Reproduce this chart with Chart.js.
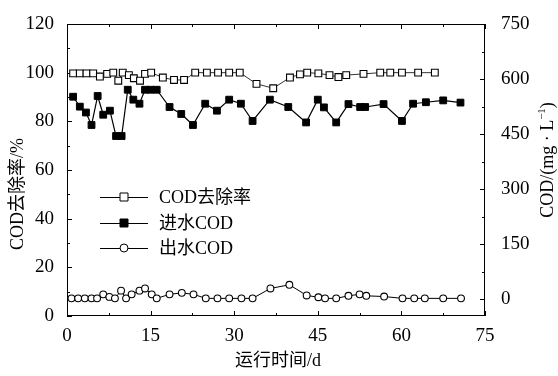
<!DOCTYPE html>
<html lang="zh">
<head>
<meta charset="UTF-8">
<title>COD去除率与进出水COD</title>
<script src="https://cdn.jsdelivr.net/npm/chart.js"></script>
<style>
  html, body { margin: 0; padding: 0; background: #fff; }
  #wrap { width: 558px; height: 376px; }
</style>
</head>
<body>
<div id="wrap"><canvas id="codChart" width="558" height="376"></canvas></div>
<script>
// COD removal rate, left axis (%)
const removalDays = [1.1, 2.3, 3.5, 4.7, 5.9, 7.2, 8.3, 9.2, 10.0, 11.1, 12.0, 13.1, 14.0, 15.1, 17.2, 19.2, 21.0, 23.0, 25.1, 27.1,
                     29.1, 31.0, 34.0, 37.0, 40.0, 41.8, 43.1, 45.1, 47.1, 48.7, 50.1, 53.2, 56.2, 58.0, 60.1, 63.0, 66.0];
const removalRate = [99.7, 99.7, 99.7, 99.7, 98.4, 99.5, 100, 96.7, 100, 99, 97.7, 96.7, 99.5, 100, 98, 97, 97, 100, 100, 100,
                     100, 100, 95.4, 93.6, 98, 99.3, 100, 99.7, 99, 98.2, 99, 99.5, 100, 100, 100, 100, 100];

// influent COD, right axis (mg/L)
const inDays = [1.1, 2.3, 3.4, 4.4, 5.5, 6.5, 7.7, 8.8, 9.8, 10.9, 11.9, 13.0, 14.0, 15.0, 16.1, 18.4, 20.5, 22.6, 24.8, 26.9,
                29.1, 31.2, 33.3, 36.4, 39.7, 42.9, 45.0, 46.1, 48.3, 50.5, 52.6, 53.5, 56.8, 60.1, 62.1, 64.4, 67.5, 70.6];
const inCOD = [552, 525, 509, 475, 554, 503, 514, 445, 445, 571, 544, 533, 571, 571, 571, 524, 505, 475, 533, 514,
               544, 533, 486, 544, 524, 482, 544, 523, 482, 532, 524, 524, 532, 486, 533, 537, 542, 536];

// effluent COD, right axis (mg/L)
const outDays = [0.8, 2.0, 3.2, 4.4, 5.4, 6.5, 7.6, 8.6, 9.7, 10.6, 11.6, 13.0, 14.0, 15.2, 16.1, 18.4, 20.6, 22.7, 24.9, 27.0,
                 29.1, 31.3, 33.3, 36.5, 39.9, 43.0, 45.1, 46.3, 48.3, 50.5, 52.5, 53.7, 56.9, 60.2, 62.3, 64.2, 67.5, 70.7];
const outCOD = [3, 3, 3, 3, 3, 14, 7, 3, 24, 3, 14, 24, 30, 14, 3, 14, 18, 14, 3, 3,
                3, 3, 3, 30, 40, 11, 6, 3, 3, 10, 14, 10, 8, 3, 3, 3, 3, 3];

const xTicks = [0, 15, 30, 45, 60, 75];
const leftTicks = [0, 20, 40, 60, 80, 100, 120];
const rightTicks = [0, 150, 300, 450, 600, 750];
const seriesNames = ['COD去除率', '进水COD', '出水COD'];

const serif = '"Liberation Serif", "Times New Roman", "Noto Sans CJK SC", serif';

function pairs(xs, ys) {
    return xs.map((x, i) => ({ x: x, y: ys[i] }));
}

// box, inward ticks (major + minor), axis titles, legend
const framePlugin = {
    id: 'frame',
    beforeDatasetsDraw(chart) {
        const ctx = chart.ctx;
        const a = chart.chartArea;
        const sx = chart.scales.x, sl = chart.scales.y, sr = chart.scales.y1;
        ctx.save();
        ctx.strokeStyle = '#000';
        ctx.lineWidth = 1;
        ctx.strokeRect(a.left + 0.5, a.top + 0.5, a.right - a.left - 1, a.bottom - a.top - 1);
        ctx.beginPath();
        for (let v = 0; v <= 75; v += 7.5) {
            const px = Math.round(sx.getPixelForValue(v)) + 0.5;
            const len = v % 15 === 0 ? 5 : 3;
            ctx.moveTo(px, a.bottom); ctx.lineTo(px, a.bottom - len);
            ctx.moveTo(px, a.top); ctx.lineTo(px, a.top + len);
        }
        for (let v = 0; v <= 120; v += 10) {
            const py = Math.round(sl.getPixelForValue(v)) + 0.5;
            const len = v % 20 === 0 ? 5 : 3;
            ctx.moveTo(a.left, py); ctx.lineTo(a.left + len, py);
        }
        for (let v = 0; v <= 750; v += 75) {
            const py = Math.round(sr.getPixelForValue(v)) + 0.5;
            const len = v % 150 === 0 ? 5 : 3;
            ctx.moveTo(a.right, py); ctx.lineTo(a.right - len, py);
        }
        ctx.stroke();
        ctx.restore();
    },
    afterDraw(chart) {
        const ctx = chart.ctx;
        const a = chart.chartArea;
        ctx.save();
        ctx.fillStyle = '#000';
        ctx.strokeStyle = '#000';
        ctx.font = '18px ' + serif;
        ctx.textBaseline = 'middle';

        // x title
        ctx.textAlign = 'center';
        ctx.fillText('运行时间/d', (a.left + a.right) / 2 + 2, 361);

        // left title
        ctx.save();
        ctx.translate(18, 194);
        ctx.rotate(-Math.PI / 2);
        ctx.fillText('COD去除率/%', 0, 0);
        ctx.restore();

        // right title with superscript
        ctx.save();
        ctx.translate(548, 160);
        ctx.rotate(-Math.PI / 2);
        const main = 'COD/(mg · L';
        const sup = '−1';
        ctx.font = '18px ' + serif;
        const w1 = ctx.measureText(main).width;
        ctx.font = '11px ' + serif;
        const w2 = ctx.measureText(sup).width;
        ctx.font = '18px ' + serif;
        const w3 = ctx.measureText(')').width;
        let x0 = -(w1 + w2 + w3) / 2;
        ctx.textAlign = 'left';
        ctx.fillText(main, x0, 0);
        ctx.font = '11px ' + serif;
        ctx.fillText(sup, x0 + w1, -6);
        ctx.font = '18px ' + serif;
        ctx.fillText(')', x0 + w1 + w2, 0);
        ctx.restore();

        // legend
        const lx = a.left + 33;
        const rows = [a.top + 173, a.top + 199, a.top + 224];
        ctx.lineWidth = 1;
        ctx.textAlign = 'left';
        rows.forEach((ry, i) => {
            ctx.beginPath();
            ctx.moveTo(lx, ry + 0.5);
            ctx.lineTo(lx + 48, ry + 0.5);
            ctx.stroke();
            const cx = lx + 24;
            ctx.beginPath();
            if (i === 2) {
                ctx.arc(cx, ry, 4, 0, Math.PI * 2);
            } else {
                ctx.rect(cx - 4, ry - 4, 8, 8);
            }
            ctx.fillStyle = i === 1 ? '#000' : '#fff';
            ctx.fill();
            ctx.stroke();
            ctx.fillStyle = '#000';
            ctx.fillText(seriesNames[i], lx + 59, ry + 1);
        });
        ctx.restore();
    }
};

new Chart(document.getElementById('codChart'), {
    type: 'line',
    data: {
        datasets: [
            {
                label: seriesNames[0],
                data: pairs(removalDays, removalRate),
                yAxisID: 'y',
                borderColor: '#000',
                borderWidth: 0.8,
                pointStyle: 'rect',
                pointRadius: 4.8,
                pointBorderWidth: 1.1,
                pointBackgroundColor: '#fff',
                pointBorderColor: '#000',
                tension: 0
            },
            {
                label: seriesNames[1],
                data: pairs(inDays, inCOD),
                yAxisID: 'y1',
                borderColor: '#000',
                borderWidth: 1.2,
                pointStyle: 'rect',
                pointRadius: 4.8,
                pointBorderWidth: 1,
                pointBackgroundColor: '#000',
                pointBorderColor: '#000',
                tension: 0
            },
            {
                label: seriesNames[2],
                data: pairs(outDays, outCOD),
                yAxisID: 'y1',
                borderColor: '#000',
                borderWidth: 1,
                pointStyle: 'circle',
                pointRadius: 3.4,
                pointBorderWidth: 1.1,
                pointBackgroundColor: '#fff',
                pointBorderColor: '#000',
                tension: 0
            }
        ]
    },
    options: {
        responsive: false,
        devicePixelRatio: 1,
        animation: false,
        layout: { padding: { top: 24, left: 0, right: 0, bottom: 0 } },
        plugins: {
            legend: { display: false },
            tooltip: { enabled: false }
        },
        scales: {
            x: {
                type: 'linear',
                min: 0,
                max: 75,
                afterBuildTicks: s => { s.ticks = xTicks.map(v => ({ value: v })); },
                afterFit: s => { s.height = 60; },
                grid: { display: false },
                border: { display: false },
                ticks: { color: '#000', padding: 1, maxRotation: 0, font: { family: serif, size: 19 } }
            },
            y: {
                position: 'left',
                min: 0,
                max: 120,
                afterBuildTicks: s => { s.ticks = leftTicks.map(v => ({ value: v })); },
                afterFit: s => { s.width = 67; },
                grid: { display: false },
                border: { display: false },
                ticks: { color: '#000', padding: 5, font: { family: serif, size: 19 } }
            },
            y1: {
                position: 'right',
                min: -45,
                max: 750,
                afterBuildTicks: s => { s.ticks = rightTicks.map(v => ({ value: v })); },
                afterFit: s => { s.width = 73; },
                grid: { display: false },
                border: { display: false },
                ticks: { color: '#000', padding: 8, font: { family: serif, size: 19 } }
            }
        }
    },
    plugins: [framePlugin]
});
</script>
</body>
</html>
